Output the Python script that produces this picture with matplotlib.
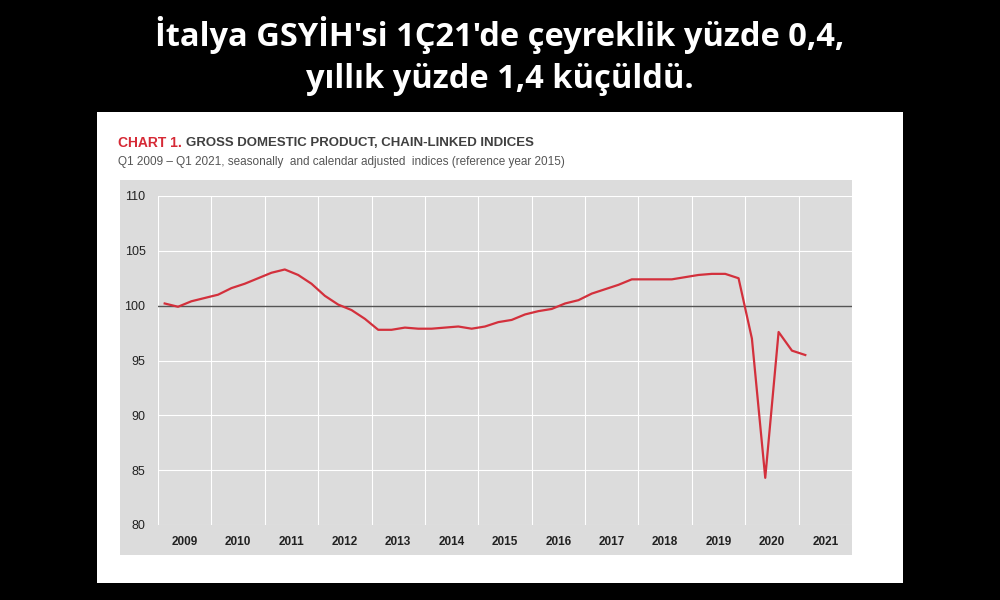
import matplotlib
matplotlib.use("Agg")
import matplotlib.pyplot as plt
from matplotlib.patches import Rectangle

years = [str(y) for y in range(2009, 2022)]
gdp = [100.2, 99.9, 100.4, 100.7,
       101.0, 101.6, 102.0, 102.5,
       103.0, 103.3, 102.8, 102.0,
       100.9, 100.1, 99.6, 98.8,
       97.8, 97.8, 98.0, 97.9,
       97.9, 98.0, 98.1, 97.9,
       98.1, 98.5, 98.7, 99.2,
       99.5, 99.7, 100.2, 100.5,
       101.1, 101.5, 101.9, 102.4,
       102.4, 102.4, 102.4, 102.6,
       102.8, 102.9, 102.9, 102.5,
       97.0, 84.3, 97.6, 95.9,
       95.5]
yticks = [80, 85, 90, 95, 100, 105, 110]

fig = plt.figure(figsize=(10, 6), dpi=100, facecolor="black")
fig.patches.append(Rectangle((97/1000, 1-583/600), 806/1000, 471/600,
                             transform=fig.transFigure, facecolor="white", edgecolor="none", zorder=-2))
fig.patches.append(Rectangle((120/1000, 1-555/600), 732/1000, 375/600,
                             transform=fig.transFigure, facecolor="#dcdcdc", edgecolor="none", zorder=-1))

fig.text(0.5, 1-35/600, "İtalya GSYİH'si 1Ç21'de çeyreklik yüzde 0,4,", color="white",
         fontsize=23.5, fontweight="bold", family="Open Sans", ha="center", va="center")
fig.text(0.5, 1-80/600, "yıllık yüzde 1,4 küçüldü.", color="white",
         fontsize=23.5, fontweight="bold", family="Open Sans", ha="center", va="center")

fig.text(118/1000, 1-143/600, "CHART 1.", color="#d62a36", fontsize=10,
         fontweight="bold", family="Liberation Sans", va="center", ha="left")
fig.text(186/1000, 1-143/600, "GROSS DOMESTIC PRODUCT, CHAIN-LINKED INDICES", color="#404040",
         fontsize=9.5, fontweight="bold", family="Liberation Sans", va="center", ha="left")
fig.text(118/1000, 1-162/600, "Q1 2009 – Q1 2021, seasonally  and calendar adjusted  indices (reference year 2015)",
         color="#555555", fontsize=8.5, family="Liberation Sans", va="center", ha="left")

ax = fig.add_axes([158/1000, 1-525/600, 694/1000, 329/600])
ax.set_zorder(5)
ax.set_facecolor("none")
x = list(range(len(gdp)))
ax.plot(x, gdp, color="#d3303c", lw=1.6, zorder=3)
ax.axhline(100, color="#555555", lw=1.0, zorder=2)
ax.set_xlim(-0.5, 51.5)
ax.set_ylim(80, 110)
ax.set_yticks(yticks)
ax.set_yticklabels([str(v) for v in yticks], fontsize=9, color="#222222", family="Liberation Sans")
for v in yticks:
    if v != 100:
        ax.axhline(v, color="white", lw=0.8, zorder=1)
for k in range(len(years) + 1):
    ax.axvline(-0.5 + 4*k, color="white", lw=0.8, zorder=1)
ax.set_xticks([1.5 + 4*k for k in range(len(years))])
ax.set_xticklabels(years, fontsize=8.5, fontweight="bold", color="#222222", family="Liberation Sans")
ax.tick_params(axis="x", length=0, pad=8)
ax.tick_params(axis="y", length=0, pad=9)
for s in ax.spines.values():
    s.set_visible(False)

fig.savefig("out.png", dpi=100, facecolor="black")
